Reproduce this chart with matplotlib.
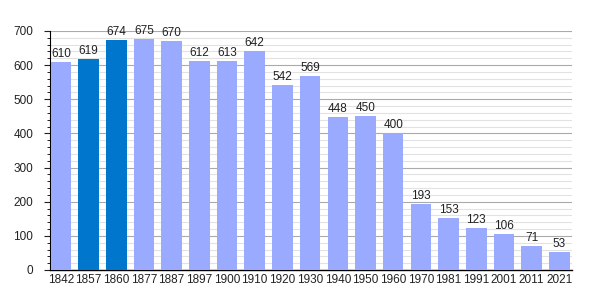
import matplotlib
matplotlib.use('Agg')
import matplotlib.pyplot as plt
from matplotlib.ticker import MultipleLocator
import numpy as np

plt.rcParams['font.family'] = ['Liberation Sans', 'DejaVu Sans']

anos = ['1842', '1857', '1860', '1877', '1887', '1897', '1900', '1910', '1920', '1930',
        '1940', '1950', '1960', '1970', '1981', '1991', '2001', '2011', '2021']
populacao = [610, 619, 674, 675, 670, 612, 613, 642, 542, 569,
             448, 450, 400, 193, 153, 123, 106, 71, 53]
destaque = ['1857', '1860']

COR_CLARA = '#99aaff'
COR_ESCURA = '#0077cc'

fig = plt.figure(figsize=(6, 3), dpi=100)
ax = fig.add_axes([0.083, 0.1, 0.87, 0.797])

x = np.arange(len(anos))
cores = [COR_ESCURA if a in destaque else COR_CLARA for a in anos]
ax.bar(x, populacao, width=0.74, color=cores, zorder=3)

# rótulos de valor acima das barras
for xi, v in zip(x, populacao):
    ax.text(xi, v + 6, str(v), ha='center', va='bottom', fontsize=8.5, color='#222222', zorder=4)

ax.set_xlim(-0.4, len(anos) - 0.55)
ax.set_ylim(0, 700)
ax.set_xticks(x)
ax.set_xticklabels(anos)
ax.yaxis.set_major_locator(MultipleLocator(100))
ax.yaxis.set_minor_locator(MultipleLocator(20))
ax.grid(axis='y', which='major', color='#aaaaaa', linewidth=0.8, zorder=0)
ax.grid(axis='y', which='minor', color='#e2e2e2', linewidth=0.8, zorder=0)

ax.tick_params(axis='both', labelsize=8.5, colors='#222222')
ax.tick_params(axis='x', length=0, pad=3)
ax.tick_params(axis='y', which='major', length=4, width=0.8, pad=8)
ax.tick_params(axis='y', which='minor', length=2, width=0.6)

for lado in ['top', 'right']:
    ax.spines[lado].set_visible(False)
ax.spines['left'].set_linewidth(0.8)
ax.spines['bottom'].set_linewidth(1.0)

fig.savefig('out.png', dpi=100, facecolor='white')
